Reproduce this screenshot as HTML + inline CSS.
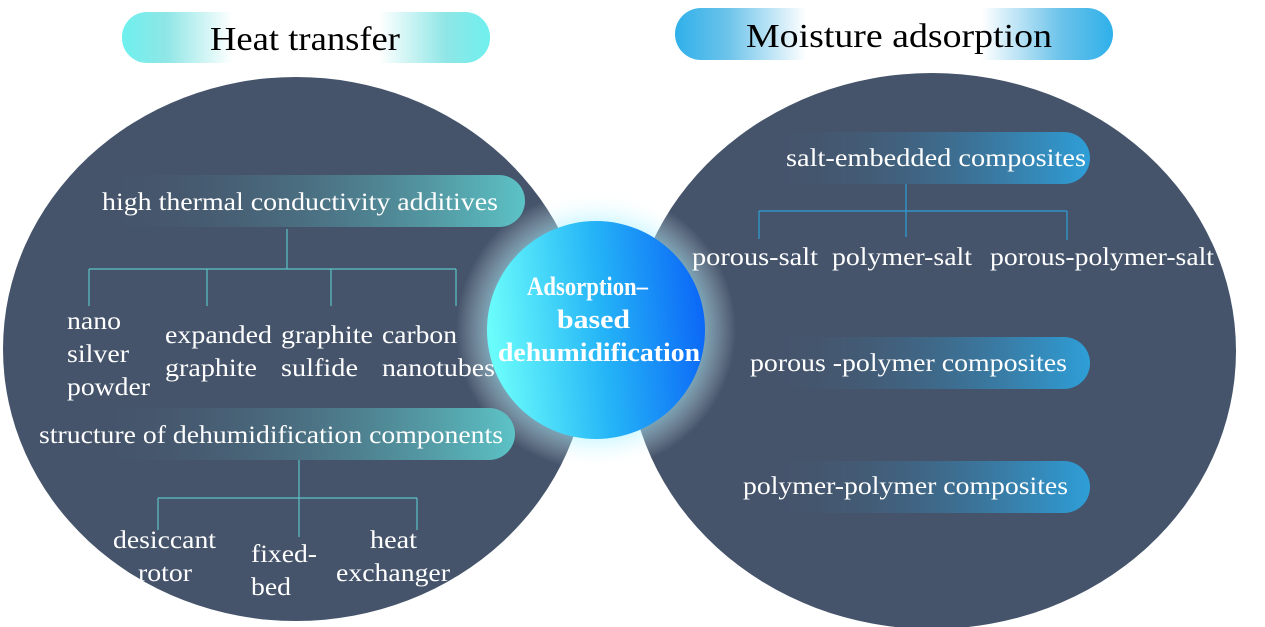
<!DOCTYPE html>
<html><head><meta charset="utf-8"><style>
html,body{margin:0;padding:0;background:#fff;}
svg{display:block;}
text{font-family:"Liberation Serif",serif;}
</style></head><body>
<svg width="1265" height="627" viewBox="0 0 1265 627" xmlns="http://www.w3.org/2000/svg">
<defs>
<linearGradient id="tl" x1="0" x2="1"><stop offset="0" stop-color="#6ef0ee"/><stop offset="0.12" stop-color="#8fe6e6"/><stop offset="0.3" stop-color="#fff"/><stop offset="0.7" stop-color="#fff"/><stop offset="0.88" stop-color="#8fe6e6"/><stop offset="1" stop-color="#6ef0ee"/></linearGradient>
<linearGradient id="tr" x1="0" x2="1"><stop offset="0" stop-color="#2fb0ea"/><stop offset="0.12" stop-color="#6cc3ea"/><stop offset="0.3" stop-color="#fff"/><stop offset="0.7" stop-color="#fff"/><stop offset="0.88" stop-color="#6cc3ea"/><stop offset="1" stop-color="#2fb0ea"/></linearGradient>
<linearGradient id="pl" x1="0" x2="1"><stop offset="0" stop-color="#45546b" stop-opacity="0"/><stop offset="1" stop-color="#5cc3c6"/></linearGradient>
<linearGradient id="pr" x1="0" x2="1"><stop offset="0" stop-color="#45546b" stop-opacity="0"/><stop offset="1" stop-color="#2e9fd8"/></linearGradient>
<linearGradient id="dl" x1="0" x2="1"><stop offset="0" stop-color="#45546b"/><stop offset="1" stop-color="#5b8fa8"/></linearGradient>
<linearGradient id="dr" x1="0" x2="1"><stop offset="0" stop-color="#45546b"/><stop offset="1" stop-color="#3a86b8"/></linearGradient>
<linearGradient id="cc" x1="0" x2="1" y1="0.3" y2="0.2"><stop offset="0" stop-color="#6afcfb"/><stop offset="0.5" stop-color="#25b5f7"/><stop offset="1" stop-color="#0a63f7"/></linearGradient>
<radialGradient id="glow"><stop offset="0.6" stop-color="#6fe8ff" stop-opacity="0.9"/><stop offset="1" stop-color="#ffffff" stop-opacity="0"/></radialGradient>
</defs>
<rect x="122" y="12" width="368" height="51" rx="25" fill="url(#tl)"/>
<text x="210" y="50" font-size="34" textLength="190" lengthAdjust="spacingAndGlyphs" fill="#000">Heat transfer</text>
<rect x="675" y="8" width="438" height="52" rx="26" fill="url(#tr)"/>
<text x="746" y="47" font-size="34" textLength="306" lengthAdjust="spacingAndGlyphs" fill="#000">Moisture adsorption</text>
<ellipse cx="296" cy="349" rx="293" ry="272" fill="#45546b"/>
<ellipse cx="932" cy="351" rx="304" ry="278" fill="#45546b"/>
<circle cx="596" cy="330" r="140" fill="url(#glow)"/>
<circle cx="596" cy="330" r="109" fill="url(#cc)"/>
<g font-weight="bold" font-size="26" fill="#fff">
<text x="527" y="295" textLength="121" lengthAdjust="spacingAndGlyphs">Adsorption–</text>
<text x="557" y="328" textLength="73" lengthAdjust="spacingAndGlyphs">based</text>
<text x="498" y="361" textLength="202" lengthAdjust="spacingAndGlyphs">dehumidification</text>
</g>
<g stroke-width="4" stroke-linecap="round">
<line x1="380" y1="145" x2="453" y2="145" stroke="url(#dl)"/>
<line x1="400" y1="393" x2="447" y2="393" stroke="url(#dl)"/>
<line x1="760" y1="118" x2="824" y2="118" stroke="url(#dr)"/>
<line x1="755" y1="288" x2="820" y2="288" stroke="url(#dr)"/>
<line x1="765" y1="443" x2="826" y2="443" stroke="url(#dr)"/>
</g>
<rect x="90" y="175" width="435" height="52" rx="26" fill="url(#pl)"/>
<rect x="85" y="408" width="430" height="52" rx="26" fill="url(#pl)"/>
<rect x="760" y="132" width="330" height="52" rx="26" fill="url(#pr)"/>
<rect x="760" y="337" width="330" height="52" rx="26" fill="url(#pr)"/>
<rect x="760" y="461" width="330" height="52" rx="26" fill="url(#pr)"/>
<g stroke="#5cc3c6" stroke-width="1.2" fill="none">
<path d="M287 229V269M89 269H456M89 269V306M207 269V306M331 269V306M456 269V306"/>
<path d="M299 460V537M158 498H417M158 498V530M417 498V530"/>
</g>
<g stroke="#2e9fd8" stroke-width="1.2" fill="none">
<path d="M906 184V237M759 211H1067M759 211V239M1067 211V240"/>
</g>
<g font-size="25" fill="#fff">
<text x="102" y="210" textLength="396" lengthAdjust="spacingAndGlyphs">high thermal conductivity additives</text>
<text x="39" y="443" textLength="464" lengthAdjust="spacingAndGlyphs">structure of dehumidification components</text>
<text x="786" y="166" textLength="300" lengthAdjust="spacingAndGlyphs">salt-embedded composites</text>
<text x="750" y="371" textLength="317" lengthAdjust="spacingAndGlyphs">porous -polymer composites</text>
<text x="743" y="494" textLength="325" lengthAdjust="spacingAndGlyphs">polymer-polymer composites</text>
<text x="692" y="265" textLength="126" lengthAdjust="spacingAndGlyphs">porous-salt</text>
<text x="832" y="265" textLength="140" lengthAdjust="spacingAndGlyphs">polymer-salt</text>
<text x="990" y="265" textLength="224" lengthAdjust="spacingAndGlyphs">porous-polymer-salt</text>
<text x="67" y="329" textLength="54" lengthAdjust="spacingAndGlyphs">nano</text>
<text x="67" y="362" textLength="62" lengthAdjust="spacingAndGlyphs">silver</text>
<text x="67" y="395" textLength="83" lengthAdjust="spacingAndGlyphs">powder</text>
<text x="165" y="343" textLength="107" lengthAdjust="spacingAndGlyphs">expanded</text>
<text x="165" y="376" textLength="92" lengthAdjust="spacingAndGlyphs">graphite</text>
<text x="281" y="343" textLength="92" lengthAdjust="spacingAndGlyphs">graphite</text>
<text x="281" y="376" textLength="77" lengthAdjust="spacingAndGlyphs">sulfide</text>
<text x="382" y="343" textLength="75" lengthAdjust="spacingAndGlyphs">carbon</text>
<text x="382" y="376" textLength="113" lengthAdjust="spacingAndGlyphs">nanotubes</text>
<text x="113" y="548" textLength="103" lengthAdjust="spacingAndGlyphs">desiccant</text>
<text x="138" y="581" textLength="54" lengthAdjust="spacingAndGlyphs">rotor</text>
<text x="251" y="562" textLength="66" lengthAdjust="spacingAndGlyphs">fixed-</text>
<text x="251" y="595" textLength="40" lengthAdjust="spacingAndGlyphs">bed</text>
<text x="370" y="548" textLength="47" lengthAdjust="spacingAndGlyphs">heat</text>
<text x="336" y="581" textLength="114" lengthAdjust="spacingAndGlyphs">exchanger</text>
</g>
</svg>
</body></html>
